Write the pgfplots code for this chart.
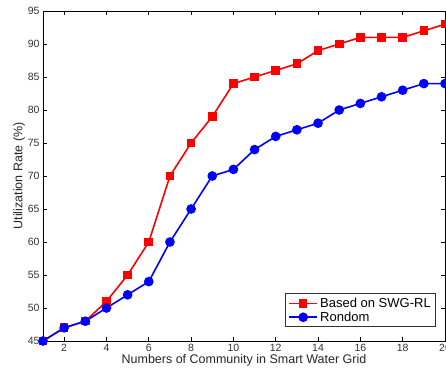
\documentclass[border=0pt]{standalone}
\usepackage{fontspec}
\setmainfont{Liberation Sans}
\usepackage{pgfplots}
\pgfplotsset{compat=1.18}
\begin{document}
\begin{tikzpicture}
\begin{axis}[
  scale only axis,
  width=402pt, height=330pt,
  xmin=1, xmax=20, ymin=45, ymax=95,
  xtick={2,4,...,20},
  ytick={45,50,...,95},
  tick align=inside,
  major tick length=4pt,
  axis line style={black, line width=0.8pt},
  every tick/.style={black, line width=0.6pt},
  tick label style={font=\fontsize{10.5}{12}\selectfont, text=black!80},
  /pgf/number format/assume math mode=true,
  xlabel={Numbers of Community in Smart Water Grid},
  ylabel={Utilization Rate (\%)},
  label style={font=\fontsize{12.5}{14}\selectfont, text=black!85},
  xlabel style={yshift=4pt},
  ylabel style={yshift=-4pt},
  legend style={at={(0.978,0.042)}, anchor=south east, draw=black!80, line width=0.8pt,
    font=\fontsize{13}{15}\selectfont, inner xsep=3pt, inner ysep=2pt, row sep=-1pt},
  legend cell align=left,
  legend image code/.code={\draw[mark repeat=2,mark phase=2,#1,line width=1.6pt] plot coordinates {(0cm,0cm)(0.5cm,0cm)(1.0cm,0cm)};},
]
\addplot[color=red, line width=1.6pt, mark=square*, mark size=3.5pt, mark options={solid, fill=red}]
coordinates {(1,45)(2,47)(3,48)(4,51)(5,55)(6,60)(7,70)(8,75)(9,79)(10,84)(11,85)(12,86)(13,87)(14,89)(15,90)(16,91)(17,91)(18,91)(19,92)(20,93)};
\addlegendentry{Based on SWG-RL}
\addplot[color=blue, line width=1.6pt, mark=*, mark size=4pt, mark options={solid, fill=blue}]
coordinates {(1,45)(2,47)(3,48)(4,50)(5,52)(6,54)(7,60)(8,65)(9,70)(10,71)(11,74)(12,76)(13,77)(14,78)(15,80)(16,81)(17,82)(18,83)(19,84)(20,84)};
\addlegendentry{Rondom}
\end{axis}
\pgfresetboundingbox
\path[use as bounding box] ([xshift=-43pt,yshift=-33pt]current axis.south west) rectangle ([xshift=1pt,yshift=11pt]current axis.north east);
\end{tikzpicture}
\end{document}
